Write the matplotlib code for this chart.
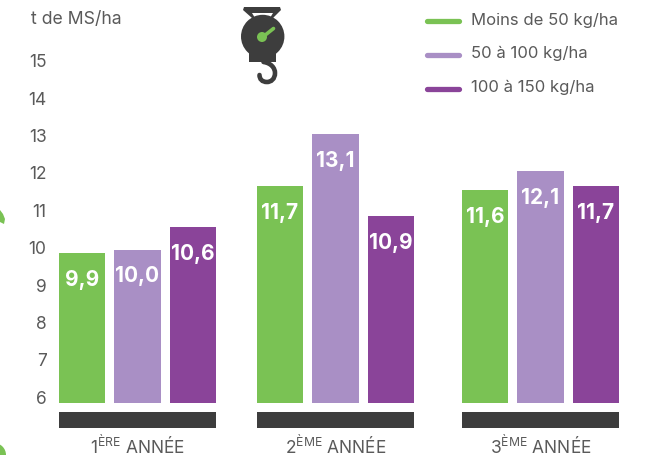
import matplotlib
matplotlib.use("Agg")
import matplotlib.pyplot as plt
from matplotlib.patches import Circle, Polygon, Rectangle, PathPatch
from matplotlib.path import Path
from matplotlib.transforms import ScaledTranslation

years = ["1$^{\\mathregular{ÈRE}}$ ANNÉE", "2$^{\\mathregular{ÈME}}$ ANNÉE", "3$^{\\mathregular{ÈME}}$ ANNÉE"]
series_names = ["Moins de 50 kg/ha", "50 à 100 kg/ha", "100 à 150 kg/ha"]
moins_50 = [9.9, 11.7, 11.6]
de_50_100 = [10.0, 13.1, 12.1]
de_100_150 = [10.6, 10.9, 11.7]
yticks = [6, 7, 8, 9, 10, 11, 12, 13, 14, 15]

GREEN, LILAC, PURPLE = "#7AC254", "#A98FC5", "#8A4499"
DARK, TEXT = "#3D3D3D", "#5A5A5A"
W, H = 666, 456
plt.rcParams["font.family"] = ["Inter", "DejaVu Sans"]
plt.rcParams["mathtext.fontset"] = "custom"
plt.rcParams["mathtext.rm"] = "Inter"
plt.rcParams["mathtext.default"] = "regular"

fig = plt.figure(figsize=(W / 100, H / 100), dpi=100)
SCALE = 37.4
BASE = 5.9
top_px = 20
ax = fig.add_axes([59 / W, (H - 404) / H, 560 / W, (404 - top_px) / H])
ax.set_xlim(59, 619)
ax.set_ylim(BASE, BASE + (404 - top_px) / SCALE)
for s in ax.spines.values():
    s.set_visible(False)

centers = [137.5, 335.5, 540.5]
bw, off = 46.5, 55.5
for k, (vals, col) in enumerate(zip([moins_50, de_50_100, de_100_150], [GREEN, LILAC, PURPLE])):
    xs = [c + (k - 1) * off for c in centers]
    ax.bar(xs, [v - BASE for v in vals], bw, bottom=BASE, color=col, linewidth=0)
    for x, v in zip(xs, vals):
        ax.text(x, v - 0.69, f"{v:.1f}".replace(".", ","), ha="center", va="center",
                color="white", fontsize=15, fontweight="bold")

for c in centers:
    ax.bar(c, 16 / SCALE, 157, bottom=BASE - 25 / SCALE, color=DARK, linewidth=0, clip_on=False)

ax.set_yticks(yticks)
ax.set_yticklabels([str(t) for t in yticks], fontsize=12.5, color=TEXT)
ax.set_xticks(centers)
ax.set_xticklabels(years, fontsize=12.5, color=TEXT)
ax.tick_params(axis="both", length=0)
ax.tick_params(axis="y", pad=9)
ax.tick_params(axis="x", pad=22)
shift = ScaledTranslation(0, 2.2 / 72, fig.dpi_scale_trans)
for lab in ax.get_yticklabels():
    lab.set_transform(lab.get_transform() + shift)

# overlay in pixel coordinates: unit label, legend, icon, page fragments
ov = fig.add_axes([0, 0, 1, 1], facecolor="none")
ov.set_xlim(0, W)
ov.set_ylim(H, 0)
ov.axis("off")
ov.text(31, 19.5, "t de MS/ha", fontsize=12.7, color=TEXT, va="center", ha="left")

for y, name, col in zip([22, 55.5, 89.5], series_names, [GREEN, LILAC, PURPLE]):
    ov.plot([427, 459], [y, y], color=col, lw=3.8, solid_capstyle="round")
    ov.text(471, y - 2, name, fontsize=12, color=TEXT, va="center", ha="left")

# scale icon
ov.add_patch(Polygon([(244, 8), (280, 8), (281, 11), (273, 19), (270, 19), (273, 14), (252, 14), (255, 19), (252, 19), (243, 11)], color=DARK, lw=0))
ov.add_patch(Circle((262.7, 37.5), 21.7, color=DARK, lw=0))
ov.add_patch(Rectangle((248.5, 48), 27.5, 15, color=DARK, lw=0))
ov.plot([273.5, 264], [29.5, 37], color=GREEN, lw=2.6, solid_capstyle="round")
ov.add_patch(Circle((262, 38), 5, color=GREEN, lw=0))
hook = Path(
    [(263.5, 63), (271, 64), (275, 69), (275, 74), (275, 80), (271, 83), (267, 83), (262, 83), (259.5, 80), (259.5, 76)],
    [Path.MOVETO] + [Path.CURVE4] * 9,
)
ov.add_patch(PathPatch(hook, fc="none", ec=DARK, lw=3.3, capstyle="round"))

# fragments of the page decoration at the left edge
ov.add_patch(Polygon([(0, 211), (3, 215), (5, 220), (4, 225), (0, 223)], color=GREEN, lw=0))
ov.add_patch(Circle((-6, 456), 12, color=GREEN, lw=0))

fig.savefig("out.png", dpi=100)
